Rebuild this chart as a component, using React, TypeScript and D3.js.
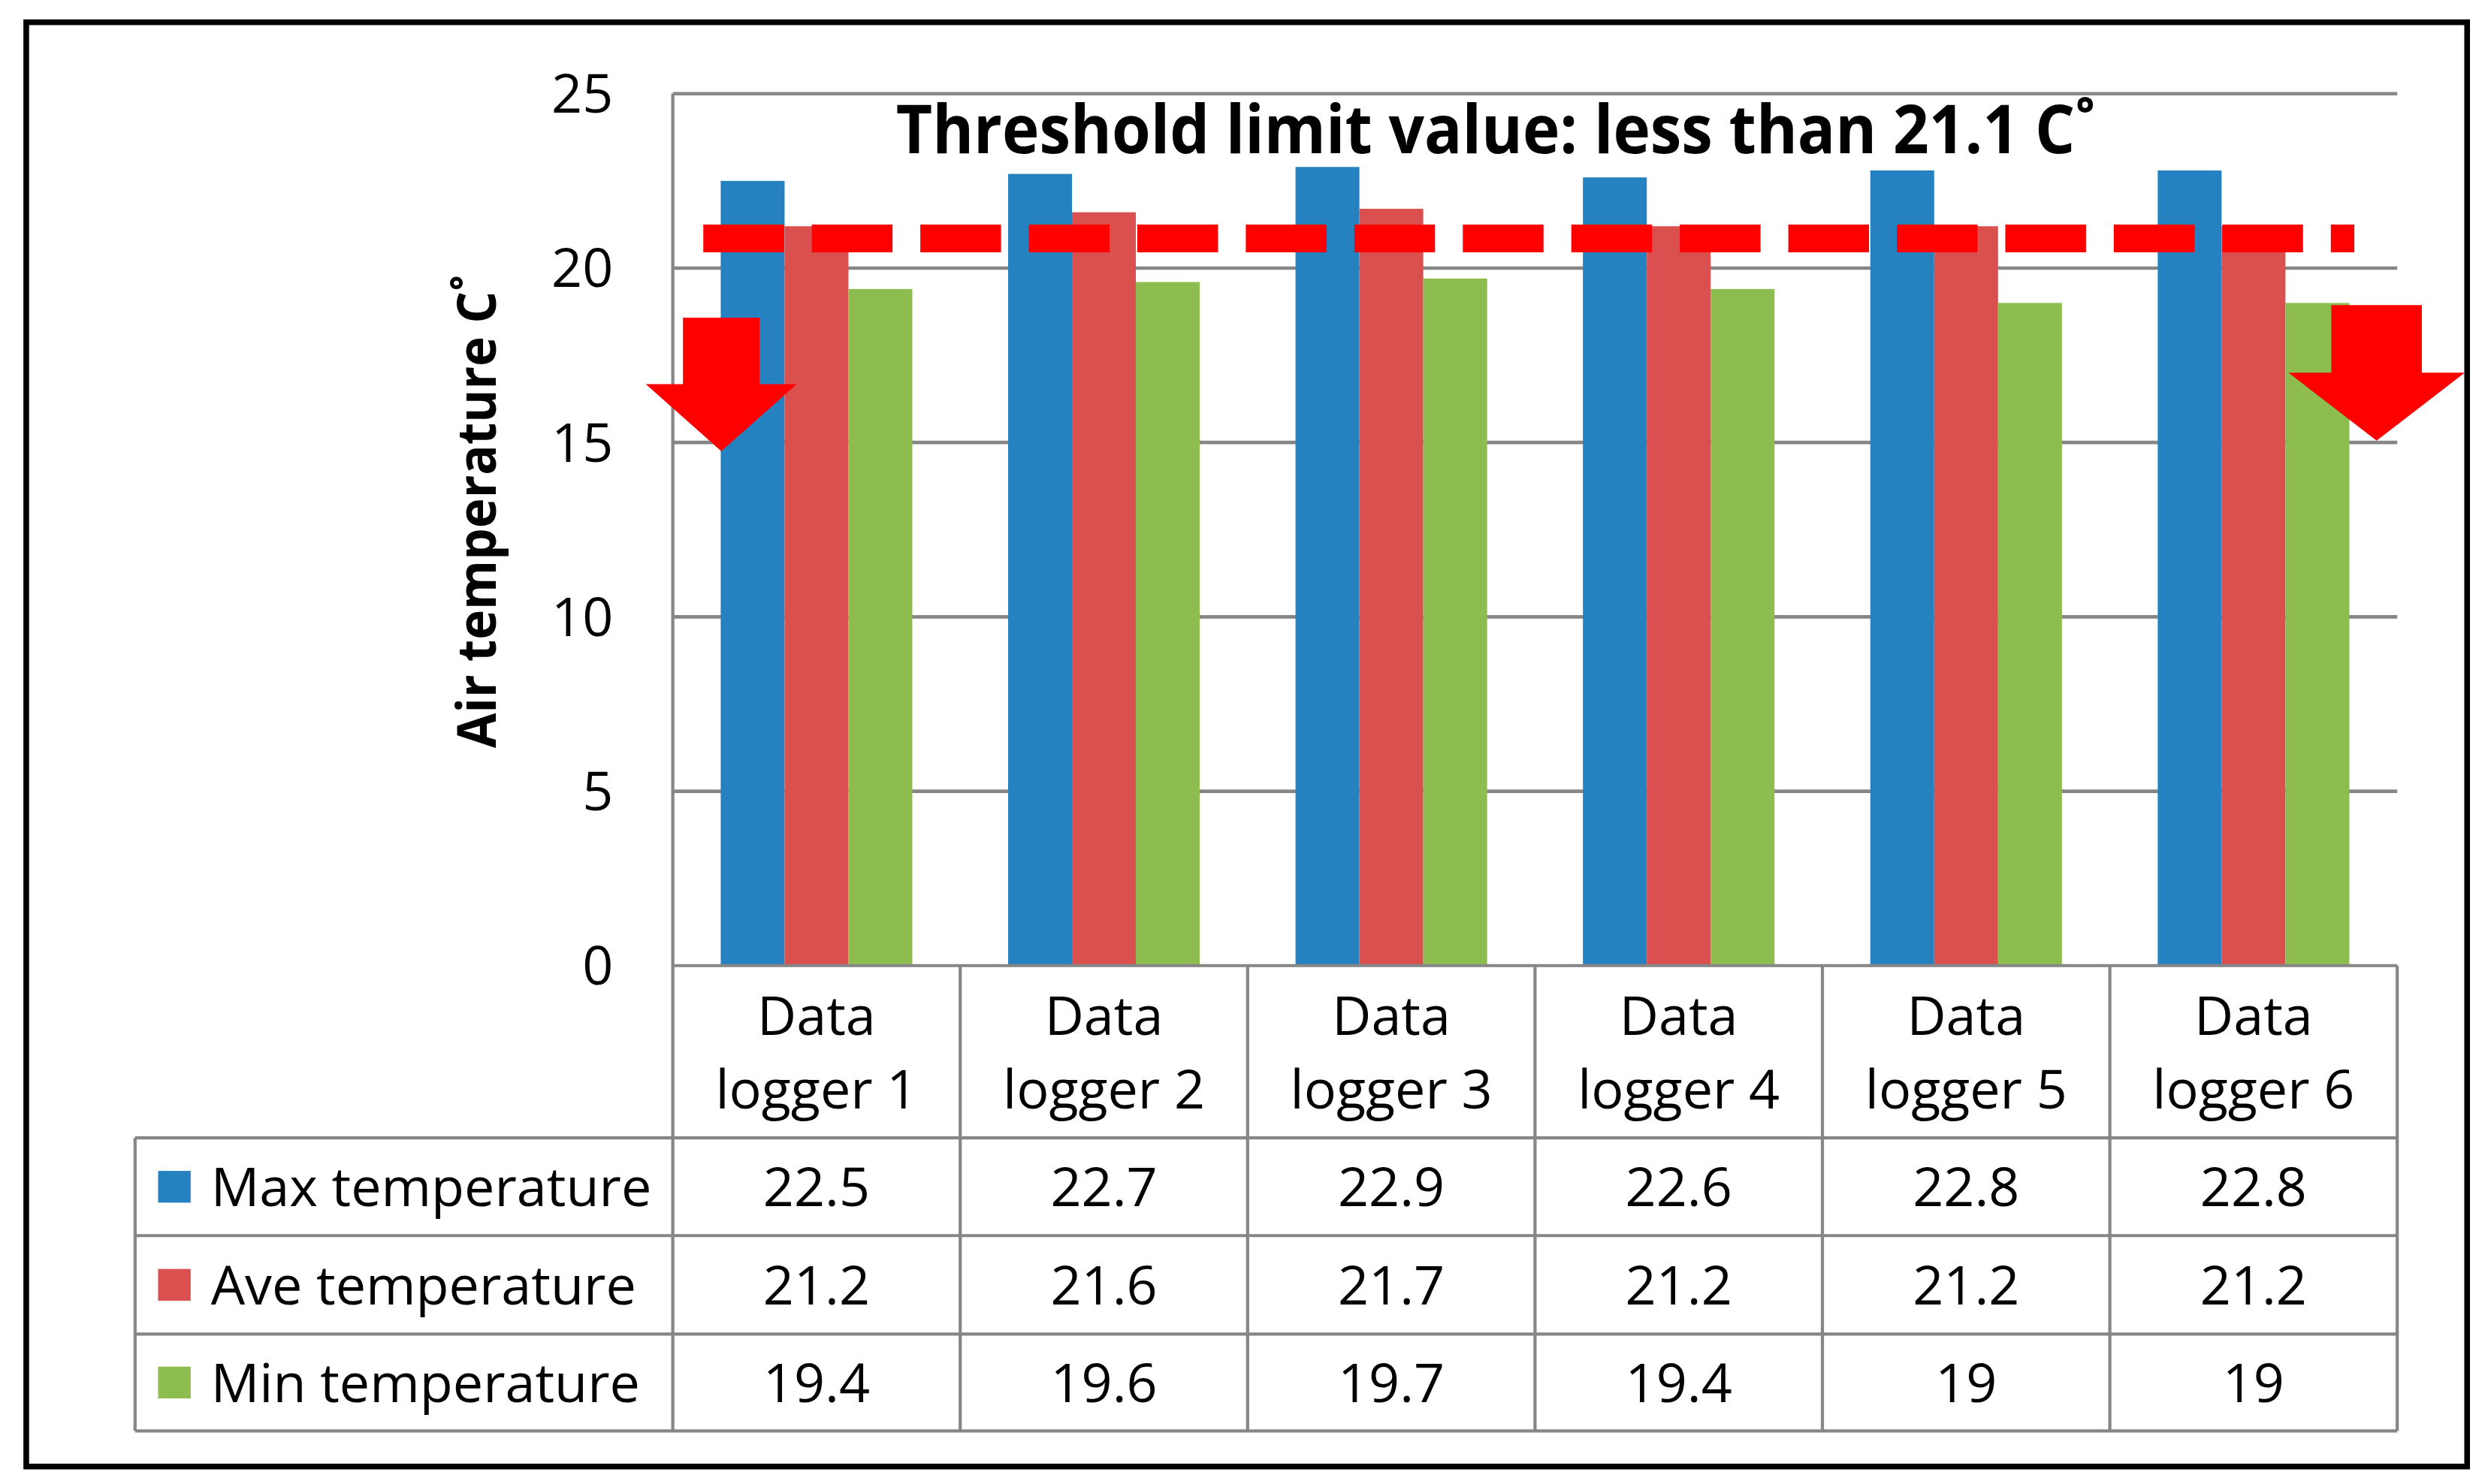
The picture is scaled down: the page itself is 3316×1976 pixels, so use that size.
import { useEffect } from "react"
import * as d3 from "d3"

const categories = ["Data logger 1", "Data logger 2", "Data logger 3", "Data logger 4", "Data logger 5", "Data logger 6"]
const seriesNames = ["Max temperature", "Ave temperature", "Min temperature"]
const maxTemp = [22.5, 22.7, 22.9, 22.6, 22.8, 22.8]
const aveTemp = [21.2, 21.6, 21.7, 21.2, 21.2, 21.2]
const minTemp = [19.4, 19.6, 19.7, 19.4, 19, 19]
const yTicks = [0, 5, 10, 15, 20, 25]
const thresholdLabel = "Threshold limit value: less than 21.1 C˚"
const thresholdLevel = 20.85 // where the dashed line was drawn
const axisTitle = "Air temperature C˚"

const colors = ["#2681c1", "#d9504e", "#8dbc4f"]
const seriesValues = [maxTemp, aveTemp, minTemp]

const W = 1568
const H = 934.4
const plot = { left: 423.5, right: 1509, top: 59, bottom: 608 }
const legendLeft = 85
const rowLines = [716.5, 778, 840, 901]
const grid = "#868686"
const font = "'Open Sans', sans-serif"

export default function App() {
  useEffect(() => {
    document.body.style.margin = "0"
  }, [])

  const x0 = d3.scaleBand<string>().domain(categories).range([plot.left, plot.right]).padding(0)
  const bw = x0.bandwidth()
  const x1 = d3.scaleBand<string>().domain(seriesNames).range([0, bw]).paddingInner(0).paddingOuter(0.75)
  const y = d3.scaleLinear().domain([0, 25]).range([plot.bottom, plot.top])

  const arrow = (cx: number, top: number, head: number, tip: number, sh: number, hh: number) => {
    const p = d3.path()
    p.moveTo(cx - sh, y(top))
    p.lineTo(cx + sh, y(top))
    p.lineTo(cx + sh, y(head))
    p.lineTo(cx + hh, y(head))
    p.lineTo(cx, y(tip))
    p.lineTo(cx - hh, y(head))
    p.lineTo(cx - sh, y(head))
    p.closePath()
    return p.toString()
  }
  const first = x0(categories[0]) as number
  const last = (x0(categories[categories.length - 1]) as number) + bw

  const rowCenters = rowLines.slice(0, 3).map((r, i) => (r + rowLines[i + 1]) / 2)

  return (
    <svg width={3316} height={1976} viewBox={`0 0 ${W} ${H}`} style={{ display: "block" }} fontFamily={font}>
      <rect x={0} y={0} width={W} height={H} fill="#fff" />

      {/* gridlines */}
      {yTicks.filter(t => t > 0).map(t => (
        <line key={t} x1={plot.left} x2={plot.right} y1={y(t)} y2={y(t)} stroke={grid} strokeWidth={2.2} />
      ))}

      {/* bars */}
      {seriesNames.map((s, si) => (
        <g key={s} fill={colors[si]}>
          {categories.map((c, ci) => {
            const v = seriesValues[si][ci]
            return (
              <rect key={c} x={(x0(c) as number) + (x1(s) as number)} y={y(v)}
                width={x1.bandwidth()} height={y(0) - y(v)} />
            )
          })}
        </g>
      ))}

      {/* y tick labels */}
      {yTicks.map(t => (
        <text key={t} x={386} y={y(t) + 12} textAnchor="end" fontSize={34} fill="#000">{t}</text>
      ))}

      {/* axis title */}
      <text transform={`translate(312,322) rotate(-90)`} textAnchor="middle" fontSize={34} fontWeight="bold"
        textLength={298} lengthAdjust="spacingAndGlyphs">{axisTitle}</text>

      {/* data table lines */}
      <g stroke={grid} strokeWidth={2}>
        <line x1={plot.left} x2={plot.right} y1={plot.bottom} y2={plot.bottom} />
        {rowLines.map(r => <line key={r} x1={legendLeft} x2={plot.right} y1={r} y2={r} />)}
        <line x1={legendLeft} x2={legendLeft} y1={rowLines[0]} y2={rowLines[3]} />
        <line x1={plot.left} x2={plot.left} y1={plot.top} y2={rowLines[3]} />
        {categories.map(c => {
          const xr = (x0(c) as number) + bw
          return <line key={c} x1={xr} x2={xr} y1={plot.bottom} y2={rowLines[3]} />
        })}
      </g>

      {/* category labels */}
      {categories.map(c => {
        const cx = (x0(c) as number) + bw / 2
        const words = c.split(" ")
        return (
          <g key={c} textAnchor="middle" fontSize={34}>
            <text x={cx} y={651.6}>{words[0]}</text>
            <text x={cx} y={698}>{words.slice(1).join(" ")}</text>
          </g>
        )
      })}

      {/* legend keys + values */}
      {seriesNames.map((s, si) => (
        <g key={s}>
          <rect x={99.5} y={rowCenters[si] - 10} width={20.5} height={20} fill={colors[si]} />
          <text x={132.7} y={rowCenters[si] + 12.3} fontSize={34}>{s}</text>
          {categories.map((c, ci) => (
            <text key={c} x={(x0(c) as number) + bw / 2} y={rowCenters[si] + 12.3} fontSize={34} textAnchor="middle">
              {String(seriesValues[si][ci])}
            </text>
          ))}
        </g>
      ))}

      {/* threshold dashed line */}
      <line x1={first + 19.2} x2={last - 27} y1={y(thresholdLevel)} y2={y(thresholdLevel)}
        stroke="#ff0000" strokeWidth={17.6} strokeDasharray="50.8 17.5" />

      {/* arrows */}
      <path d={arrow(first + 30.5, 18.58, 16.67, 14.75, 24.1, 47.5)} fill="#ff0000" />
      <path d={arrow(last - 13, 18.94, 17.0, 15.05, 28.5, 55.5)} fill="#ff0000" />

      {/* title */}
      <text x={941.5} y={96.5} textAnchor="middle" fontSize={42.5} fontWeight="bold"
        textLength={755} lengthAdjust="spacingAndGlyphs">{thresholdLabel}</text>

      {/* outer frame */}
      <rect x={16.5} y={14} width={1536.5} height={909.4} fill="none" stroke="#000" strokeWidth={3.6} />
    </svg>
  )
}
